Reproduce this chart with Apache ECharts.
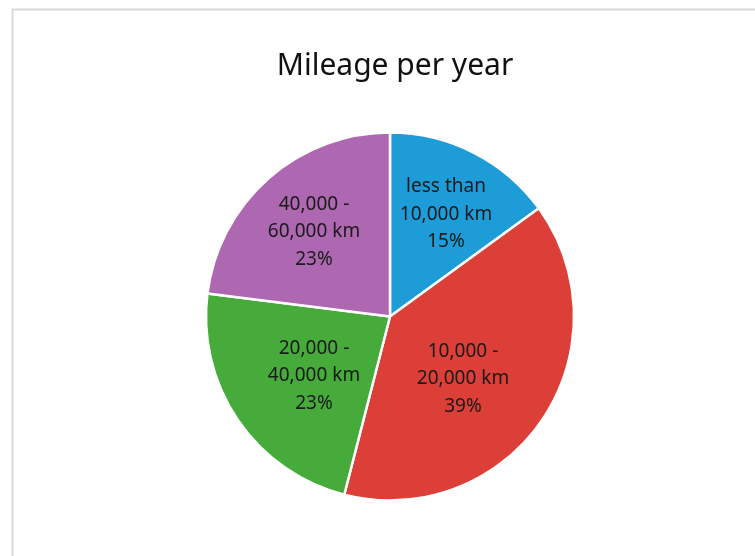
<!DOCTYPE html>
<html>
<head>
<meta charset="utf-8">
<script src="https://cdn.jsdelivr.net/npm/echarts@6/dist/echarts.min.js"></script>
<style>
html,body{margin:0;padding:0;background:#fff;}
#chart{width:755px;height:556px;}
</style>
</head>
<body>
<div id="chart"></div>
<script>
const categories = ['less than\n10,000 km', '10,000 -\n20,000 km', '20,000 -\n40,000 km', '40,000 -\n60,000 km'];
const values = [15, 39, 23, 23];
const colors = ['#1e9cd7', '#db3f37', '#46ab3b', '#ae68b1'];
const titleText = 'Mileage per year';

// label anchor offsets (layout only) relative to the pie centre
const center = [390, 316.5];
const labelOffsets = [[56, -102], [73, 62.5], [-76, 59.5], [-76, -84.5]];

const chart = echarts.init(document.getElementById('chart'), null, {renderer: 'canvas'});
chart.setOption({
  backgroundColor: '#fff',
  animation: false,
  graphic: [{
    type: 'rect', silent: true, z: -10,
    shape: {x: 12.5, y: 9.5, width: 900, height: 700},
    style: {fill: '#fff', stroke: '#d9d9d9', lineWidth: 2}
  }],
  title: {
    text: titleText,
    left: 390, top: 46, textAlign: 'center',
    textStyle: {fontFamily: 'Noto Sans', fontWeight: 'normal', fontSize: 30, color: '#111'}
  },
  series: [{
    type: 'pie',
    center: center,
    radius: 184,
    startAngle: 90,
    clockwise: true,
    label: {
      show: true, position: 'inside',
      fontFamily: 'Noto Sans', fontSize: 19, lineHeight: 27.5, color: '#1a1a1a',
      align: 'center', verticalAlign: 'middle',
      formatter: p => p.name + '\n' + p.value + '%'
    },
    labelLayout: function (params) {
      const o = labelOffsets[params.dataIndex];
      return {x: center[0] + o[0], y: center[1] + o[1], align: 'center', verticalAlign: 'middle'};
    },
    labelLine: {show: false},
    emphasis: {disabled: true},
    itemStyle: {borderColor: '#fff', borderWidth: 2.5},
    data: categories.map((c, i) => ({name: c, value: values[i], itemStyle: {color: colors[i]}}))
  }]
});
</script>
</body>
</html>
